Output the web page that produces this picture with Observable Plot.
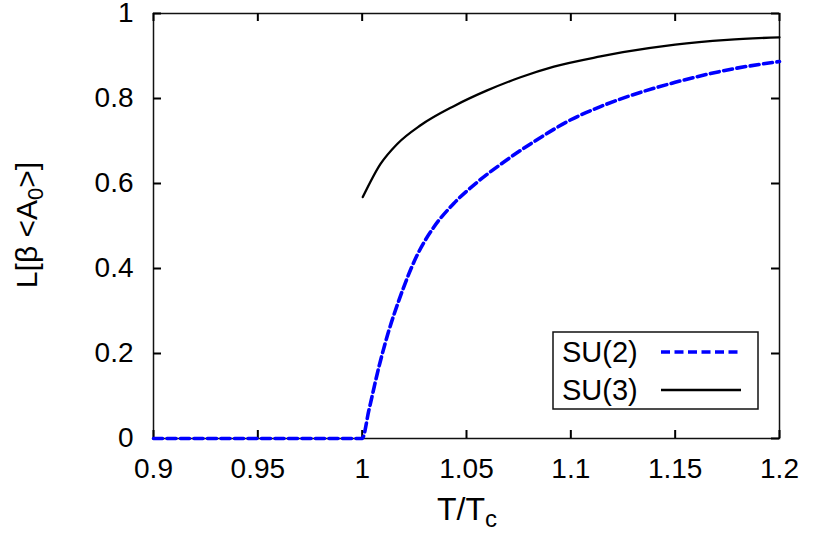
<!DOCTYPE html>
<html><head><meta charset="utf-8">
<script src="https://cdn.jsdelivr.net/npm/d3@7"></script>
<script src="https://cdn.jsdelivr.net/npm/@observablehq/plot@0.6"></script>
<style>body{margin:0;background:#fff} svg{display:block}</style>
</head><body><div id="chart"></div>
<script>
const su2T = [0.9, 0.95, 1.0, 1.0032, 1.008, 1.0128, 1.0176, 1.0264, 1.0343, 1.0439, 1.0551, 1.0663, 1.0838, 1.1, 1.1142, 1.1222, 1.15, 1.178, 1.2];
const su2L = [0, 0, 0, 0.066, 0.168, 0.254, 0.325, 0.432, 0.497, 0.553, 0.603, 0.645, 0.703, 0.750, 0.781, 0.796, 0.838, 0.870, 0.887];
const su3T = [1.0003, 1.0088, 1.0168, 1.028, 1.0439, 1.0599, 1.0759, 1.0919, 1.1142, 1.125, 1.15, 1.175, 1.2];
const su3L = [0.568, 0.646, 0.693, 0.737, 0.782, 0.819, 0.850, 0.875, 0.899, 0.909, 0.927, 0.938, 0.944];
const xTicks = [0.9, 0.95, 1, 1.05, 1.1, 1.15, 1.2];
const yTicks = [0, 0.2, 0.4, 0.6, 0.8, 1];
const seriesNames = ["SU(2)", "SU(3)"];

const su2 = su2T.map((t, i) => ({T: t, L: su2L[i]}));
const su3 = su3T.map((t, i) => ({T: t, L: su3L[i]}));
const fmt = d => String(+d.toFixed(2));
const FONT = "'Liberation Sans', Arial, Helvetica, sans-serif";

const W = 830, H = 535, ML = 153, MR = 51, MT = 13, MB = 97, TK = 8;
const innerW = W - ML - MR, innerH = H - MT - MB;

const plot = Plot.plot({
  width: W, height: H,
  marginLeft: ML, marginRight: MR, marginTop: MT, marginBottom: MB,
  x: {domain: [0.9, 1.2]},
  y: {domain: [0, 1]},
  style: {fontFamily: FONT, background: "#fff"},
  marks: [
    Plot.axisX(xTicks, {anchor: "bottom", tickSize: 0, tickPadding: 20, tickFormat: fmt, fontSize: 28, label: null}),
    Plot.axisY(yTicks, {anchor: "left", tickSize: 0, tickPadding: 20, tickFormat: fmt, fontSize: 28, label: null}),
    Plot.frame({stroke: "#111", strokeWidth: 1.5}),
    Plot.tickX(xTicks, {x: d => d, insetTop: innerH - TK, stroke: "black", strokeWidth: 2}),
    Plot.tickX(xTicks, {x: d => d, insetBottom: innerH - TK, stroke: "black", strokeWidth: 2}),
    Plot.tickY(yTicks, {y: d => d, insetRight: innerW - TK, stroke: "black", strokeWidth: 2}),
    Plot.tickY(yTicks, {y: d => d, insetLeft: innerW - TK, stroke: "black", strokeWidth: 2}),
    Plot.line(su3, {x: "T", y: "L", stroke: "#000", strokeWidth: 2.3, curve: "monotone-x"}),
    Plot.line(su2, {x: "T", y: "L", stroke: "#0000ff", strokeWidth: 3.6, strokeDasharray: "9,4.5", curve: "monotone-x"})
  ]
});
document.getElementById("chart").appendChild(plot);

const svg = d3.select(plot);
const xt = svg.append("text").attr("x", 437).attr("y", 520).attr("text-anchor", "start")
  .attr("font-family", FONT).attr("font-size", 32).attr("fill", "#000");
xt.append("tspan").text("T/T");
xt.append("tspan").attr("font-size", 24).attr("dy", 7).text("c");

const yt = svg.append("text").attr("transform", "translate(37,225) rotate(-90)")
  .attr("text-anchor", "middle").attr("font-family", FONT).attr("font-size", 30).attr("fill", "#000");
yt.append("tspan").text("L[β <A");
yt.append("tspan").attr("font-size", 22).attr("dy", 6).text("0");
yt.append("tspan").attr("dy", -6).text(">]");

const lg = svg.append("g");
lg.append("rect").attr("x", 553).attr("y", 332).attr("width", 205).attr("height", 77)
  .attr("fill", "#fff").attr("stroke", "#111").attr("stroke-width", 1.5);
const rows = [
  {name: seriesNames[0], stroke: "#0000ff", w: 3.6, dash: "9,4.5", y: 352},
  {name: seriesNames[1], stroke: "#000", w: 2.3, dash: null, y: 390}
];
rows.forEach(r => {
  lg.append("text").attr("x", 562).attr("y", r.y).attr("dy", "0.36em").attr("text-anchor", "start")
    .attr("font-family", FONT).attr("font-size", 29).attr("fill", "#000").text(r.name);
  const l = lg.append("line").attr("x1", 661).attr("x2", 741).attr("y1", r.y).attr("y2", r.y)
    .attr("stroke", r.stroke).attr("stroke-width", r.w);
  if (r.dash) l.attr("stroke-dasharray", r.dash);
});
</script>
</body></html>
